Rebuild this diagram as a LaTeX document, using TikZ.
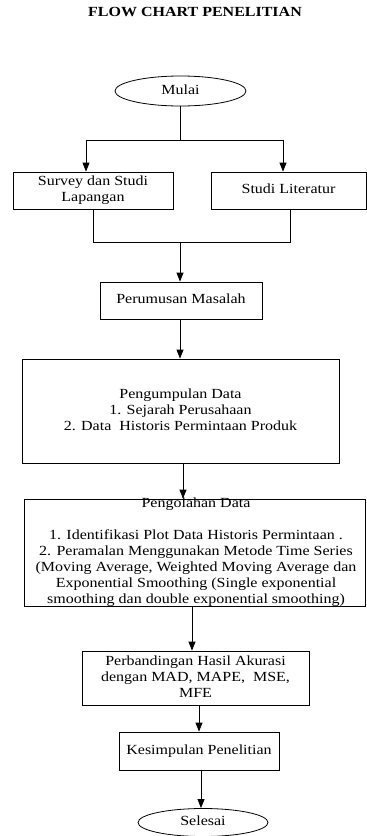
\documentclass[tikz,border=0pt]{standalone}
\usepackage{fontspec}
\setmainfont{Liberation Serif}
\usepackage{graphicx}
\usetikzlibrary{shapes.geometric,arrows.meta}
\newcommand\vs[1]{\scalebox{1}[0.87]{\begin{tabular}{@{}c@{}}#1\end{tabular}}}
\tikzset{
  box/.style={draw=black, line width=0.8pt, rectangle, inner sep=0pt, align=center},
  oval/.style={draw=black, line width=0.8pt, ellipse, inner sep=0pt},
  arr/.style={line width=0.8pt, -{Triangle[length=9pt,width=7pt]}},
  ln/.style={line width=0.8pt},
}
\begin{document}
\begin{tikzpicture}[x=1pt,y=-1pt, font=\fontsize{16}{18.4}\selectfont]
\useasboundingbox (0,0) rectangle (367,836);
\node (title) at (195,13) {\vs{\textbf{FLOW CHART PENELITIAN}}};
\node[oval, minimum width=131pt, minimum height=30pt] (mulai) at (180.5,91) {\vs{Mulai}};
\node[box, minimum width=160pt, minimum height=37pt] (survey) at (93,190.5) {\vs{Survey dan Studi\\Lapangan}};
\node[box, minimum width=155pt, minimum height=37pt] (lit) at (288.5,190.5) {\vs{Studi Literatur}};
\node[box, minimum width=162pt, minimum height=37pt] (perum) at (181,300.5) {\vs{Perumusan Masalah}};
\node[box, minimum width=317pt, minimum height=104pt] (pengum) at (180.5,411) {\vs{Pengumpulan Data\\1. Sejarah Perusahaan\\2. Data\ \ Historis Permintaan Produk}};
\node[box, minimum width=341pt, minimum height=107pt] (pengol) at (194.5,552.5) {};
\node (pengoltext) at (196,552) {\vs{Pengolahan Data\\ \\1. Identifikasi Plot Data Historis Permintaan .\\2. Peramalan Menggunakan Metode Time Series\\(Moving Average, Weighted Moving Average dan\\Exponential Smoothing (Single exponential\\smoothing dan double exponential smoothing)}};
\node[box, minimum width=227pt, minimum height=54pt] (banding) at (195.5,678) {\vs{Perbandingan Hasil Akurasi\\dengan MAD, MAPE,\ \ MSE,\\MFE}};
\node[box, minimum width=160pt, minimum height=38pt] (simpul) at (199,751) {\vs{Kesimpulan Penelitian}};
\node[oval, minimum width=130pt, minimum height=28pt] (selesai) at (203,822.5) {\vs{Selesai}};
% helper coordinates
\coordinate (split) at (180.5,140);
\coordinate (lx) at (86,0);
\coordinate (rx) at (283,0);
\coordinate (sx) at (93,0);
\coordinate (tx) at (290,0);
\coordinate (join) at (180,242);
\coordinate (a1) at (180,0);
\coordinate (a2) at (183,0);
\coordinate (a3) at (192,0);
\coordinate (a4) at (199,0);
\coordinate (a5) at (201,0);
% connectors
\draw[ln] (mulai.south) -- (split);
\draw[arr] (split) -| (survey.north -| lx);
\draw[arr] (split) -| (lit.north -| rx);
\draw[ln] (survey.south -| sx) |- (join);
\draw[ln] (lit.south -| tx) |- (join);
\draw[arr] (join) -- (perum.north -| join);
\draw[arr] (perum.south -| a1) -- (pengum.north -| a1);
\draw[arr] (pengum.south -| a2) -- (pengol.north -| a2);
\draw[arr] (pengol.south -| a3) -- (banding.north -| a3);
\draw[arr] (banding.south -| a4) -- (simpul.north -| a4);
\draw[arr] (simpul.south -| a5) -- (selesai.north -| a5);
\end{tikzpicture}
\end{document}
